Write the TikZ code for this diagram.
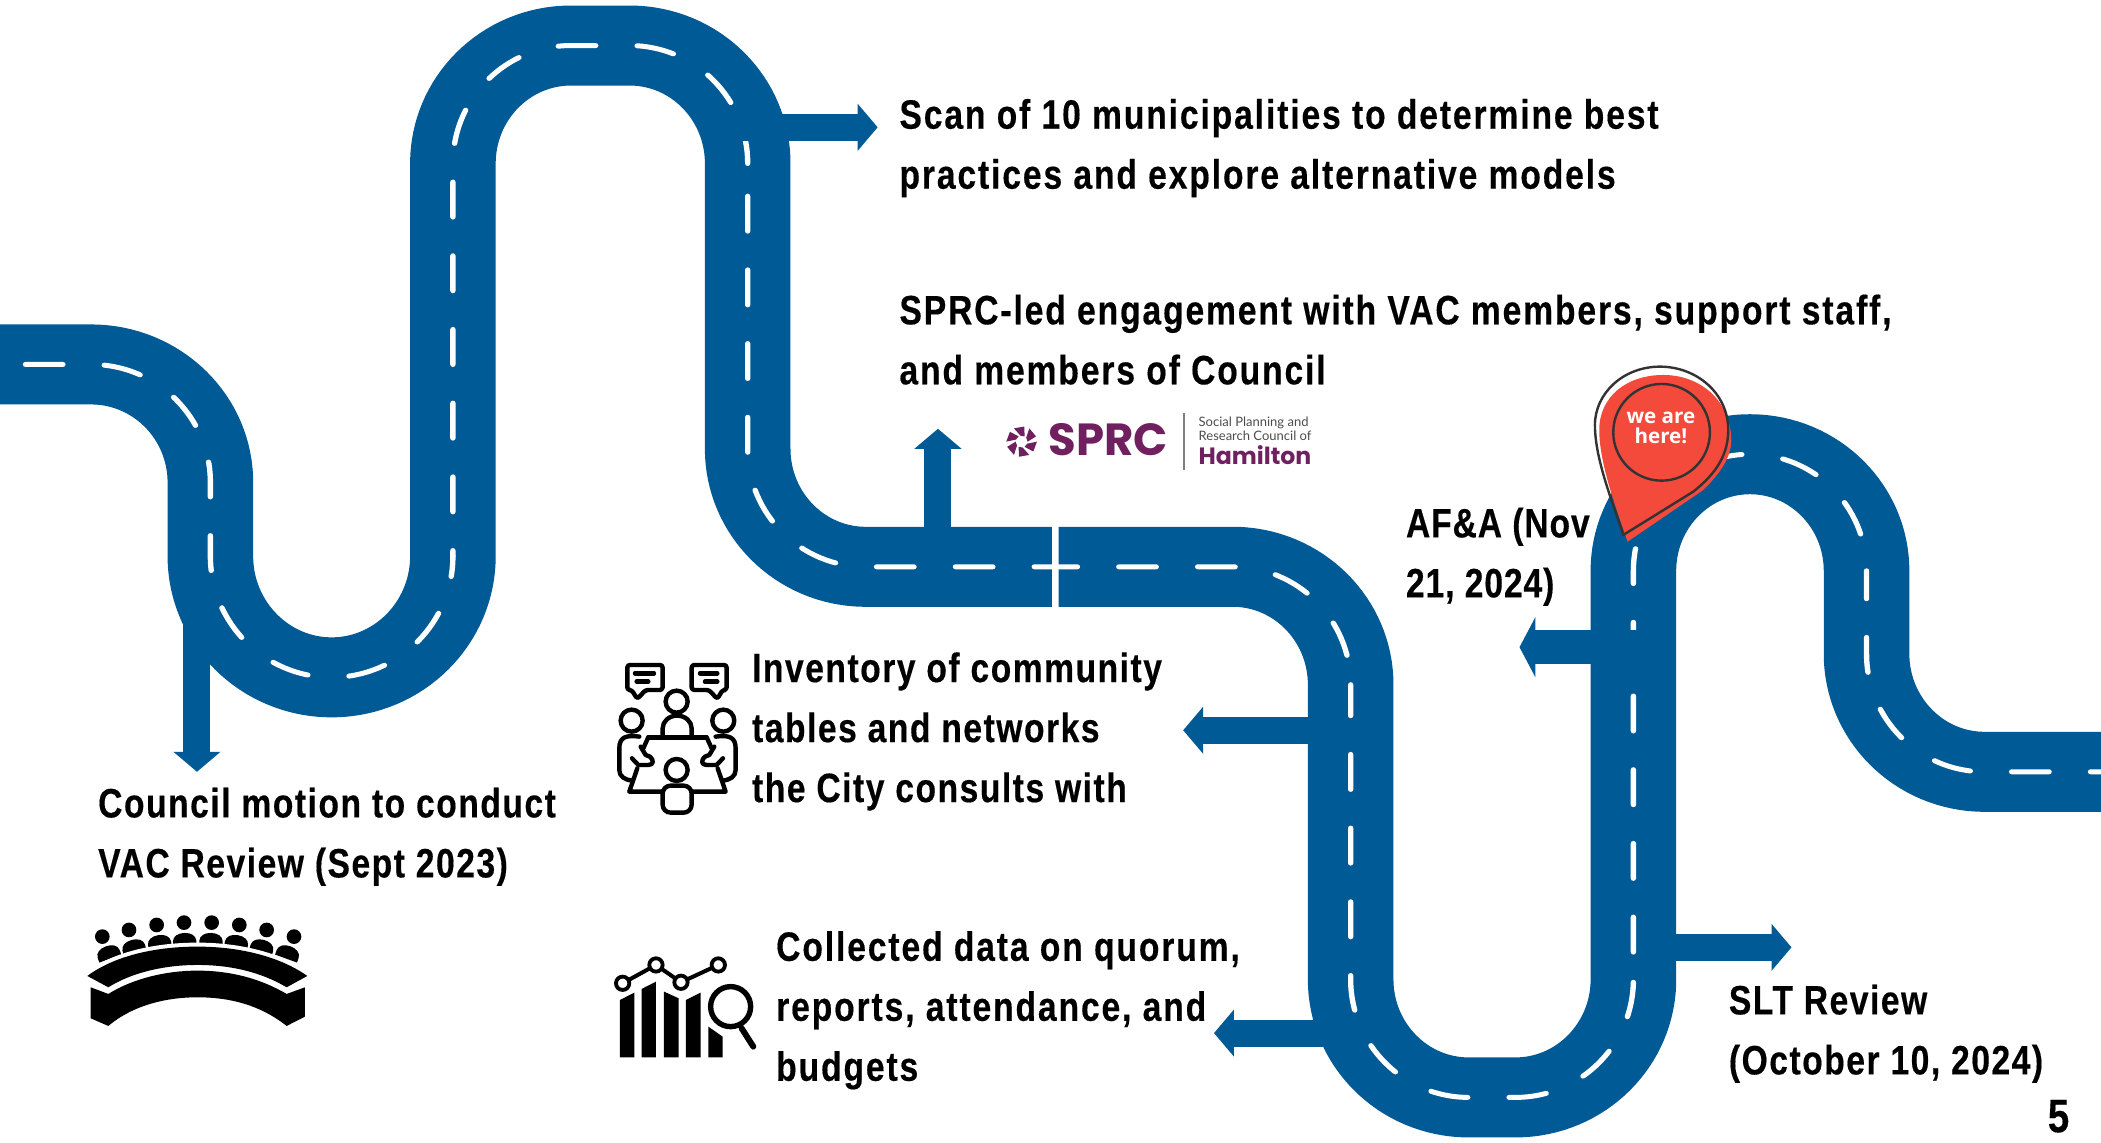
\documentclass[tikz,border=0pt]{standalone}
\usepackage{fontspec}
\usetikzlibrary{arrows.meta}
\newfontfamily\lblfont[FakeStretch=0.82,LetterSpace=4.6,BoldFeatures={FakeBold=0.35}]{Liberation Sans}
\newfontfamily\lblnarrow[FakeStretch=0.82,LetterSpace=3.7,BoldFeatures={FakeBold=0.35}]{Liberation Sans}
\newfontfamily\lbltight[FakeStretch=0.82,LetterSpace=2.2,BoldFeatures={FakeBold=0.35}]{Liberation Sans}
\newfontfamily\pinfont{Open Sans}
\newfontfamily\logofont{Poppins}
\newfontfamily\logosmall{Lato}
\definecolor{roadblue}{HTML}{005A96}
\definecolor{logopurple}{HTML}{71205F}
\definecolor{pinred}{HTML}{F44A3C}
\definecolor{pindark}{HTML}{333333}
\tikzset{
  road/.style={line width=40pt,roadblue,line cap=butt},
  roaddash/.style={line width=2.5pt,white,line cap=round,dash pattern=on 17.5pt off 19.35pt},
  fatarrow/.style={roadblue,line width=13.5pt,-{Triangle[length=10pt,width=23pt]}},
  bigarrow/.style={roadblue,line width=17.3pt,-{Triangle[length=8pt,width=30pt]}},
  lbl/.style={anchor=north west,inner sep=0pt,yshift=15.7pt,align=left,black,
    font=\lblfont\bfseries\fontsize{20.5}{30}\selectfont,
    execute at begin node={\rule{0pt}{21pt}}},
  lblb/.style={lbl,font=\lblnarrow\bfseries\fontsize{20.5}{30}\selectfont},
  lblc/.style={lbl,font=\lbltight\bfseries\fontsize{20.5}{30}\selectfont},
  iconline/.style={black,line width=2.2pt,line join=round,line cap=round},
}
\begin{document}
\begin{tikzpicture}[x=0.67pt,y=-0.67pt]
\useasboundingbox (0,0) rectangle (1568,853);
\fill[white] (0,0) rectangle (1568,853);
% arrows
\coordinate (a1s) at (147,460); \coordinate (a1e) at (147,576);
\coordinate (a2s) at (550,95);  \coordinate (a2e) at (655,95);
\coordinate (a3s) at (700,400); \coordinate (a3e) at (700,320);
\coordinate (a4s) at (990,545); \coordinate (a4e) at (883,545);
\coordinate (a5s) at (990,771); \coordinate (a5e) at (906,771);
\coordinate (a6s) at (1226,483);\coordinate (a6e) at (1134,483);
\coordinate (a7s) at (1240,707);\coordinate (a7e) at (1337,707);
\foreach \p/\q in {a1s/a1e,a3s/a3e,a4s/a4e,a5s/a5e,a7s/a7e}
  \draw[fatarrow] (\p) -- (\q);
% road: slightly stretched sideways, as in the picture
\begin{scope}[transform canvas={xscale=1.07},x=0.62617pt,y=-0.67pt]
\draw[road] (0,272) -- (68,272) arc[start angle=-90,end angle=0,x radius=89,y radius=88]
  -- (157,415) arc[start angle=180,end angle=0,radius=90.5] -- (338,122)
  arc[start angle=180,end angle=270,radius=88] -- (470,34) arc[start angle=-90,end angle=0,radius=88]
  -- (558,335) arc[start angle=180,end angle=90,radius=88] -- (785,423);
\draw[road] (790,423) -- (920,423) arc[start angle=-90,end angle=0,radius=88]
  -- (1008,731) arc[start angle=180,end angle=90,radius=88] -- (1131,819)
  arc[start angle=90,end angle=0,radius=88] -- (1219,426)
  arc[start angle=180,end angle=360,radius=87] -- (1393,488)
  arc[start angle=180,end angle=90,radius=88] -- (1568,576);
\draw[roaddash,dash phase=24.95pt] (0,272) -- (68,272) arc[start angle=-90,end angle=0,x radius=89,y radius=88]
  -- (157,415) arc[start angle=180,end angle=0,radius=90.5];
\draw[roaddash,dash phase=14.74pt] (338,415) -- (338,122)
  arc[start angle=180,end angle=270,radius=88] -- (470,34) arc[start angle=-90,end angle=0,radius=88];
\draw[roaddash,dash phase=20.5pt] (558,122) -- (558,335) arc[start angle=180,end angle=90,radius=88] -- (785,423);
\draw[roaddash,dash phase=8.7pt] (790,423) -- (920,423) arc[start angle=-90,end angle=0,radius=88];
\draw[roaddash,dash phase=2pt] (1008,511) -- (1008,731) arc[start angle=180,end angle=90,radius=88] -- (1131,819)
  arc[start angle=90,end angle=0,radius=88];
\draw[roaddash,dash phase=23.15pt] (1219,731) -- (1219,426) arc[start angle=180,end angle=360,radius=87];
\draw[roaddash,dash phase=3.55pt] (1393,426) -- (1393,488) arc[start angle=180,end angle=90,radius=88] -- (1568,576);
\end{scope}
\draw[fatarrow] (a2s) -- (a2e);
\draw[bigarrow] (a6s) -- (a6e);
% pin
\begin{scope}[xshift=780pt,yshift=-175pt,x=0.16667pt,y=-0.16667pt]
  \fill[pinred] (203,575) .. controls (170,480) and (118,340) .. (118,240)
    .. controls (118,140) and (200,75) .. (310,75)
    .. controls (420,75) and (512,150) .. (514,270)
    .. controls (514,330) and (470,380) .. (430,420) -- cycle;
  \draw[pindark,line width=1.2pt,line join=round] (190,555) .. controls (160,460) and (105,330) .. (105,225)
    .. controls (105,130) and (190,50) .. (300,50)
    .. controls (410,50) and (505,130) .. (505,240)
    .. controls (505,330) and (450,385) .. (400,425) -- cycle;
  \draw[pindark,line width=1.2pt] (305,247) circle[radius=145];
  \node[white,inner sep=0pt,align=center,font=\pinfont\bfseries\fontsize{10.3}{10}\selectfont] (pintext) at (303,235) {we are\\here!};
\end{scope}
% labels
\node[lbl] (t1) at (671,97) {Scan of 10 municipalities to determine best\\practices and explore alternative models};
\node[lbl] (t2) at (671,243) {SPRC-led engagement with VAC members, support staff,\\and members of Council};
\node[lblb] (t3) at (561,510) {Inventory of community\\tables and networks\\the City consults with};
\node[lblb] (t4) at (73,611) {Council motion to conduct\\VAC Review (Sept 2023)};
\node[lbl] (t5) at (579,718) {Collected data on quorum,\\reports, attendance, and\\budgets};
\node[lblc] (t6) at (1049,402) {AF\&A (Nov\\21, 2024)};
\node[lblb] (t7) at (1290,758) {SLT Review\\(October 10, 2024)};
\node[anchor=base west,inner sep=0pt,black,font=\lblfont\bfseries\fontsize{23.5}{24}\selectfont] (pg) at (1528,845) {5};
% meeting icon
\begin{scope}[xshift=290pt,yshift=-310pt,x=0.16667pt,y=-0.16667pt,iconline]
  \draw[rounded corners=1.3pt] (142,135) -- (248,135) -- (248,210) -- (197,210) -- (172,237) -- (155,210) -- (142,210) -- cycle;
  \draw (165,160) -- (222,160) (170,185) -- (205,185);
  \draw[rounded corners=1.3pt] (335,135) -- (440,135) -- (440,210) -- (428,210) -- (412,237) -- (387,210) -- (335,210) -- cycle;
  \draw (360,160) -- (412,160) (375,185) -- (412,185);
  \draw (290,245) circle[radius=33];
  \draw (248,350) -- (248,325) arc[start angle=180,end angle=0,x radius=43.5,y radius=-38] -- (335,350);
  \draw (155,302) circle[radius=33] (430,302) circle[radius=33];
  \draw (205,352) -- (380,352);
  \draw (205,352) -- (190,385) (172,445) -- (148,515) -- (248,515);
  \draw (178,350) .. controls (140,345) and (118,350) .. (118,385) -- (118,450) .. controls (118,470) and (135,480) .. (158,482);
  \draw (182,380) -- (197,405) -- (210,410) .. controls (222,420) and (222,435) .. (205,435) -- (175,435) -- (156,415);
  \draw (380,352) -- (395,385) (413,445) -- (437,515) -- (337,515);
  \draw (407,350) .. controls (445,345) and (467,350) .. (467,385) -- (467,450) .. controls (467,470) and (450,480) .. (427,482);
  \draw (403,380) -- (388,405) -- (375,410) .. controls (363,420) and (363,435) .. (380,435) -- (410,435) -- (429,415);
  \draw (290,450) circle[radius=33];
  \draw[rounded corners=4pt] (248,578) -- (248,497) -- (335,497) -- (335,578) -- cycle;
\end{scope}
% data icon
\begin{scope}[xshift=300pt,yshift=-460pt,x=0.16667pt,y=-0.16667pt]
  \fill[black] (60,412) -- (103,412) -- (103,218) -- (60,240) -- cycle
    (125,412) -- (168,412) -- (168,185) -- (125,207) -- cycle
    (192,412) -- (236,412) -- (236,235) -- (192,215) -- cycle
    (258,412) -- (302,412) -- (302,218) -- (258,240) -- cycle
    (325,412) -- (368,412) -- (368,350) -- (325,320) -- cycle;
  \draw[black,line width=2pt] (68,190) -- (168,135) -- (243,187) -- (355,135);
  \foreach \cx/\cy in {68/190,168/135,243/187,355/135}
    \draw[black,fill=white,line width=1.9pt] (\cx,\cy) circle[radius=20];
  \draw[white,line width=3.6pt] (392,260) circle[radius=62];
  \draw[black,fill=white,line width=2.7pt] (392,260) circle[radius=60];
  \draw[black,line width=3pt,line cap=round] (425,325) -- (460,380);
\end{scope}
% council icon
\begin{scope}[xshift=35pt,yshift=-450pt,x=0.16667pt,y=-0.16667pt]
  \foreach \hx/\hy/\ang in {97/110/20,177/90/15,260/75/9,342/68/2,425/68/-2,508/75/-9,590/90/-15,672/110/-20}{
    \fill[black] (\hx,\hy) circle[radius=22];
    \begin{scope}[shift={(\hx,\hy)},rotate=\ang]
      \fill[black] (-35,70) -- (-35,55) .. controls (-34,40) and (-20,31) .. (0,31) .. controls (20,31) and (34,40) .. (35,55) -- (35,70) -- cycle;
    \end{scope}
  }
  \draw[white,line width=4pt] (52,228) .. controls (130,170) and (250,140) .. (382,140) .. controls (510,140) and (630,170) .. (712,228);
  \fill[white] (0,240) -- (52,228) .. controls (130,170) and (250,140) .. (382,140) .. controls (510,140) and (630,170) .. (712,228) -- (760,240) -- cycle;
  \fill[black] (52,228) .. controls (130,170) and (250,140) .. (382,140) .. controls (510,140) and (630,170) .. (712,228)
    -- (650,262) .. controls (570,215) and (480,195) .. (382,195) .. controls (290,195) and (190,215) .. (115,262) -- cycle;
  \fill[black] (62,262) -- (115,282) .. controls (190,235) and (290,212) .. (382,212) .. controls (480,212) and (570,235) .. (650,282)
    -- (705,262) -- (705,350) -- (650,378) .. controls (570,315) and (480,292) .. (382,292) .. controls (290,292) and (190,315) .. (115,378) -- (62,355) -- cycle;
\end{scope}
% SPRC logo
\begin{scope}[xshift=490pt,yshift=-200pt,x=0.16667pt,y=-0.16667pt]
  \begin{scope}[shift={(125,125)}]
    \foreach \a in {0,60,...,300}
      \fill[logopurple] (\a:46) -- (\a+40:46) -- (\a+60:18) -- (\a+20:18) -- cycle;
  \end{scope}
  \node[anchor=base west,inner sep=0pt,logopurple,font=\logofont\bfseries\fontsize{22.5}{23}\selectfont] (sprc) at (205,167) {SPRC};
  \draw[gray,line width=0.6pt] (612,40) -- (612,210);
  \node[anchor=base west,inner sep=0pt,gray!60!black,font=\logosmall\fontsize{6.5}{6.5}\selectfont] (s1) at (655,80) {Social Planning and};
  \node[anchor=base west,inner sep=0pt,gray!60!black,font=\logosmall\fontsize{6.5}{6.5}\selectfont] (s2) at (655,122) {Research Council of};
  \node[anchor=base west,inner sep=0pt,logopurple,font=\logofont\bfseries\fontsize{11.8}{11.8}\selectfont] (s3) at (655,195) {Hamilton};
\end{scope}
\end{tikzpicture}
\end{document}
